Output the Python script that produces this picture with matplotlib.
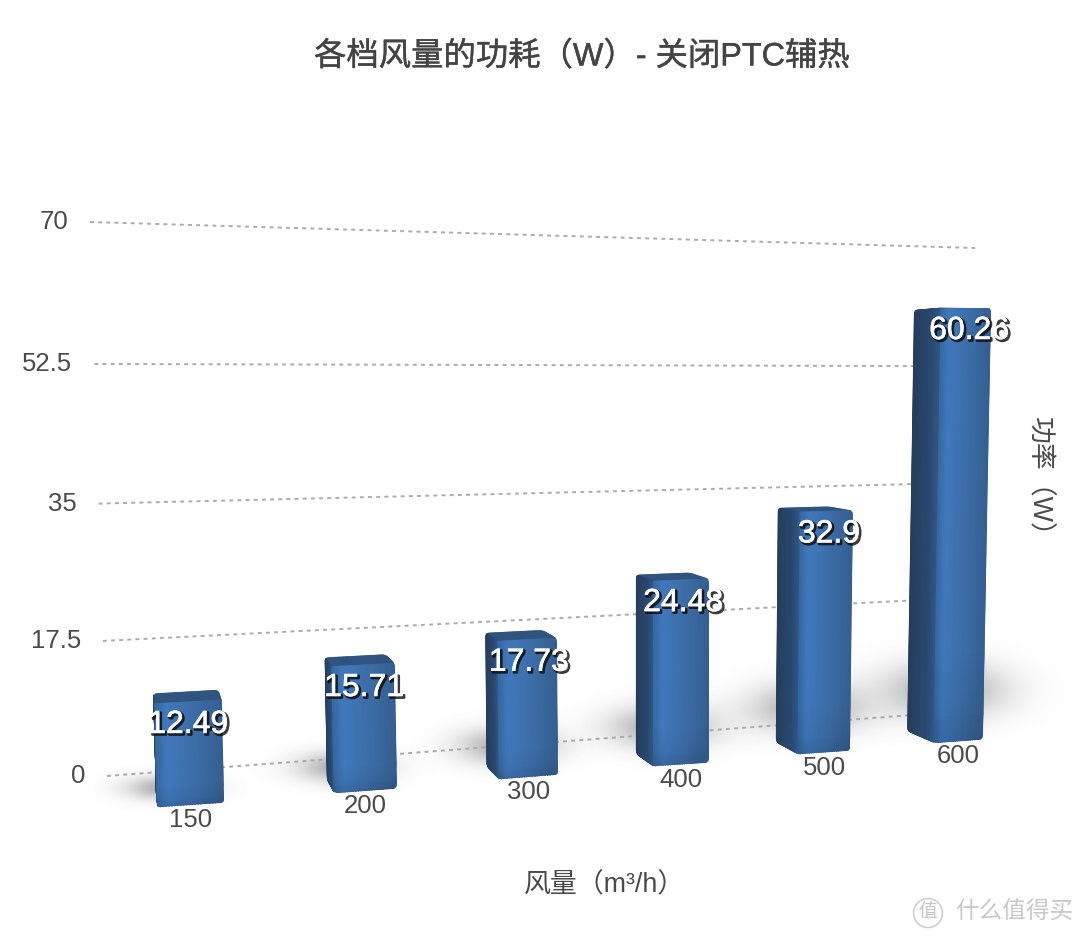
import numpy as np
import matplotlib
matplotlib.use("Agg")
import matplotlib.pyplot as plt
import matplotlib.patheffects as pe
from matplotlib.colors import to_rgb
from matplotlib.patches import Circle, PathPatch
from matplotlib.path import Path

plt.rcParams['font.family'] = ['Liberation Sans', 'Noto Sans CJK SC']

# --- data ---
categories = ['150', '200', '300', '400', '500', '600']
values = [12.49, 15.71, 17.73, 24.48, 32.9, 60.26]
value_labels = ['12.49', '15.71', '17.73', '24.48', '32.9', '60.26']
tick_values = [0, 17.5, 35, 52.5, 70]
tick_labels = ['0', '17.5', '35', '52.5', '70']

title = '各档风量的功耗（W）- 关闭PTC辅热'
xlabel = '风量（m³/h）'
ylabel = '功率（W）'

# --- perspective of the back wall: corners of the plot area in pixels ---
U_MIN, U_MAX = -0.5, 5.5
V_MIN, V_MAX = 0, 70
wall_corners = [((U_MIN, V_MIN), (107, 776)), ((U_MAX, V_MIN), (965, 711)),
                ((U_MAX, V_MAX), (975, 248)), ((U_MIN, V_MAX), (90, 222))]
VANISH = np.array([110.0, 380.0])   # depth lines converge here


def fit_homography(pairs):
    rows, rhs = [], []
    for (u, v), (x, y) in pairs:
        rows.append([u, v, 1, 0, 0, 0, -u * x, -v * x])
        rows.append([0, 0, 0, u, v, 1, -u * y, -v * y])
        rhs += [x, y]
    h = np.linalg.solve(np.array(rows, float), np.array(rhs, float))
    return np.append(h, 1).reshape(3, 3)


H = fit_homography(wall_corners)


def project(u, v, depth=1.0):
    """category position, value, depth scale -> pixel position"""
    w = H @ np.array([u, v, 1.0])
    p = w[:2] / w[2]
    return VANISH + (p - VANISH) * depth


def convex_hull(points):
    pts = sorted(map(tuple, points))

    def half(seq):
        out = []
        for p in seq:
            while len(out) > 1:
                a, b = np.subtract(out[-1], out[-2]), np.subtract(p, out[-1])
                if a[0] * b[1] - a[1] * b[0] > 0:
                    break
                out.pop()
            out.append(p)
        return out[:-1]

    return np.array(half(pts) + half(pts[::-1]))


def rounded_path(points, r):
    verts, codes = [], []
    n = len(points)
    for k in range(n):
        p, prev, nxt = points[k], points[k - 1], points[(k + 1) % n]
        a = p + (prev - p) / np.linalg.norm(prev - p) * min(r, np.linalg.norm(prev - p) / 2)
        b = p + (nxt - p) / np.linalg.norm(nxt - p) * min(r, np.linalg.norm(nxt - p) / 2)
        verts += [a, p, b]
        codes += [Path.MOVETO if k == 0 else Path.LINETO, Path.CURVE3, Path.CURVE3]
    verts.append(verts[0])
    codes.append(Path.CLOSEPOLY)
    return Path(np.array(verts), codes)


def gradient_face(ax, left_edge, right_edge, stops, clip, zorder, bottom_dark=0.0):
    """quad with a left-to-right gradient, slightly darker along the bottom"""
    (bl, tl), (br, tr) = left_edge, right_edge
    pos = [s[0] for s in stops]
    rgb = np.array([to_rgb(s[1]) for s in stops])
    f = np.linspace(0, 1, 24)
    g = np.array([0.0, 0.06, 0.2, 1.0])     # 0 = bottom, 1 = top
    X = np.array([bl[0] + (br[0] - bl[0]) * f + ((tl[0] + (tr[0] - tl[0]) * f) - (bl[0] + (br[0] - bl[0]) * f)) * t for t in g])
    Y = np.array([bl[1] + (br[1] - bl[1]) * f + ((tl[1] + (tr[1] - tl[1]) * f) - (bl[1] + (br[1] - bl[1]) * f)) * t for t in g])
    base = np.stack([np.interp(f, pos, rgb[:, j]) for j in range(3)], axis=-1)
    shade = np.array([1 - bottom_dark, 1 - bottom_dark * 0.5, 1.0, 1.0])
    C = np.array([base * s for s in shade])
    mesh = ax.pcolormesh(X, Y, C, shading='gouraud', zorder=zorder)
    mesh.set_clip_path(clip)


def floor_shadow(ax, cx, cy, w, h):
    xs = np.linspace(-2, 2, 120)
    gx, gy = np.meshgrid(xs, xs)
    img = np.zeros((120, 120, 4))
    img[..., :3] = 0.35
    img[..., 3] = 0.5 * np.exp(-(gx ** 2 + gy ** 2) * 1.6)
    ax.imshow(img, extent=(cx - w, cx + w, cy + h, cy - h), aspect='auto',
              interpolation='bilinear', zorder=1)


SIDE_STOPS = [(0, '#253d5b'), (0.7, '#2b4a72'), (1, '#315887')]
FRONT_STOPS = [(0, '#37689f'), (0.16, '#4079bd'), (0.55, '#3d6ea9'), (1, '#355f90')]

fig = plt.figure(figsize=(10.8, 9.38), dpi=100)
ax = fig.add_axes([0, 0, 1, 1])

# gridlines
for tv, tl in zip(tick_values, tick_labels):
    p0 = project(U_MIN, tv)
    p1 = project(U_MAX, tv)
    ax.plot([p0[0], p1[0]], [p0[1], p1[1]], color='#aaaaaa', lw=1.4,
            dashes=(2, 2.2), zorder=2)
    ax.text(p0[0] - 22, p0[1], tl, ha='right', va='center', fontsize=18.5,
            color='#4a4a4a', zorder=6)

# bars
BAR_HALF = 0.185
BAR_SHIFT = -0.04
for i, (cat, val, lab) in enumerate(zip(categories, values, value_labels)):
    u0 = i + BAR_SHIFT - BAR_HALF
    u1 = i + BAR_SHIFT + BAR_HALF
    s_back = 1.055 - 0.003 * i
    s_front = s_back + 0.035

    c = project(i + BAR_SHIFT, 0, s_back)
    floor_shadow(ax, c[0] - 22 + 7 * i, c[1] - 4 - 7 * i, 100 + 10 * i, 30 + 8 * i)

    bl_b, tl_b = project(u0, 0, s_back), project(u0, val, s_back)
    br_b, tr_b = project(u1, 0, s_back), project(u1, val, s_back)
    bl_f, tl_f = project(u0, 0, s_front), project(u0, val, s_front)
    br_f, tr_f = project(u1, 0, s_front), project(u1, val, s_front)

    hull = convex_hull([bl_b, tl_b, br_b, tr_b, bl_f, tl_f, br_f, tr_f])
    clip = PathPatch(rounded_path(hull, 4), transform=ax.transData)

    top = np.array([tl_b, tr_b, tr_f, tl_f])
    top_fill = ax.fill(top[:, 0], top[:, 1], color='#2f5480', lw=1, zorder=3)[0]
    top_fill.set_clip_path(clip)
    gradient_face(ax, (bl_b, tl_b), (bl_f, tl_f), SIDE_STOPS, clip, 3)
    gradient_face(ax, (bl_f, tl_f), (br_f, tr_f), FRONT_STOPS, clip, 4, bottom_dark=0.14)

    mid_top = (tl_f + tr_f) / 2
    mid_bot = (bl_f + br_f) / 2
    ax.text(mid_bot[0], mid_bot[1] + 15, cat, ha='center', va='center',
            fontsize=18.5, color='#4a4a4a', zorder=5)
    t = ax.text(mid_top[0] + 0.6 * i, mid_top[1] + 23, lab, ha='center', va='center',
                fontsize=23, color='white', zorder=7)
    t.set_path_effects([pe.SimpleLineShadow(offset=(1.2, -1.2), shadow_color='#0a0a0a',
                                            alpha=0.8, linewidth=1.8),
                        pe.withStroke(linewidth=0.4, foreground='white')])

# titles
ax.text(582, 57, title, ha='center', va='center', fontsize=23.3, color='#444444',
        path_effects=[pe.withStroke(linewidth=0.3, foreground='#444444')])
ax.text(605, 884, xlabel, ha='center', va='center', fontsize=19.4, color='#4a4a4a')
ax.text(1040, 483, ylabel, ha='center', va='center', rotation=-90, fontsize=19.4,
        color='#4a4a4a')

# watermark
ax.add_patch(Circle((928, 913), 14.5, fc='none', ec='#d0d0d0', lw=1.2))
ax.text(928, 913, '值', ha='center', va='center', fontsize=13.5, color='#c4c4c4')
ax.text(1014, 913, '什么值得买', ha='center', va='center', fontsize=17, color='#c8c8c8')

ax.set_xlim(0, 1080)
ax.set_ylim(938, 0)
ax.axis('off')

fig.savefig('out.png', dpi=100)
